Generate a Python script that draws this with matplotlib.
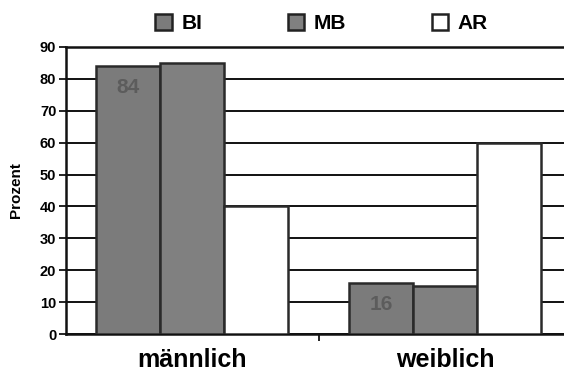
import numpy as np
import matplotlib

matplotlib.use("Agg")
import matplotlib.pyplot as plt
from matplotlib.patches import Patch

plt.rcParams["font.family"] = ["Liberation Sans", "DejaVu Sans"]
plt.rcParams["font.weight"] = "bold"

categories = ["männlich", "weiblich"]
series = ["BI", "MB", "AR"]
bi_values = [84, 16]
mb_values = [85, 15]
ar_values = [40, 60]
value_labels = {"BI": ["84", "16"]}
y_ticks = [0, 10, 20, 30, 40, 50, 60, 70, 80, 90]

fill_colors = {"BI": "#7b7b7b", "MB": "#808080", "AR": "#ffffff"}
values = {"BI": bi_values, "MB": mb_values, "AR": ar_values}

fig = plt.figure(figsize=(5.64, 3.72), dpi=100)
fig.patch.set_facecolor("white")
# axes runs slightly past the right edge of the figure
ax = fig.add_axes([0.117, 0.102, 0.897, 0.772])

x = np.arange(len(categories))
width = 0.253
for i, name in enumerate(series):
    pos = x + (i - 1) * width
    ax.bar(pos, values[name], width=width, color=fill_colors[name],
           edgecolor="#2a2a2a", linewidth=1.8, zorder=3)

for j, txt in enumerate(value_labels["BI"]):
    ax.text(x[j] - width, bi_values[j] - 6.8, txt, ha="center", va="center",
            fontsize=15, fontweight="bold", color="#5c5c5c", zorder=4)

ax.set_xlim(-0.5, 1.5)
ax.set_ylim(0, 90)
ax.set_yticks(y_ticks)
ax.set_yticklabels([str(t) for t in y_ticks], fontsize=10.5, fontweight="bold")
ax.yaxis.grid(True, color="#111111", linewidth=1.4, zorder=0)
ax.set_axisbelow(True)

ax.set_xticks([0.5], minor=True)
ax.set_xticks(x)
ax.set_xticklabels(categories, fontsize=18, fontweight="bold")
ax.tick_params(axis="x", which="major", length=0, pad=10)
ax.tick_params(axis="x", which="minor", length=5, width=1.2, direction="out")
ax.tick_params(axis="y", length=5, width=1.2, pad=2)

for side in ["left", "bottom", "top"]:
    ax.spines[side].set_linewidth(1.8)
    ax.spines[side].set_color("#111111")
ax.spines["right"].set_visible(False)

ax.set_ylabel("Prozent", fontsize=11, fontweight="bold")
ax.yaxis.set_label_coords(-0.084, 0.5)

handles = [Patch(facecolor=fill_colors[s], edgecolor="#222222", linewidth=1.8)
           for s in series]
fig.legend(handles, series, loc="center", bbox_to_anchor=(0.57, 0.937), ncol=3,
           frameon=False, prop={"size": 15, "weight": "bold"},
           handlelength=0.8, handleheight=0.8, handletextpad=0.45,
           columnspacing=4.1)

fig.savefig("out.png", dpi=100)
